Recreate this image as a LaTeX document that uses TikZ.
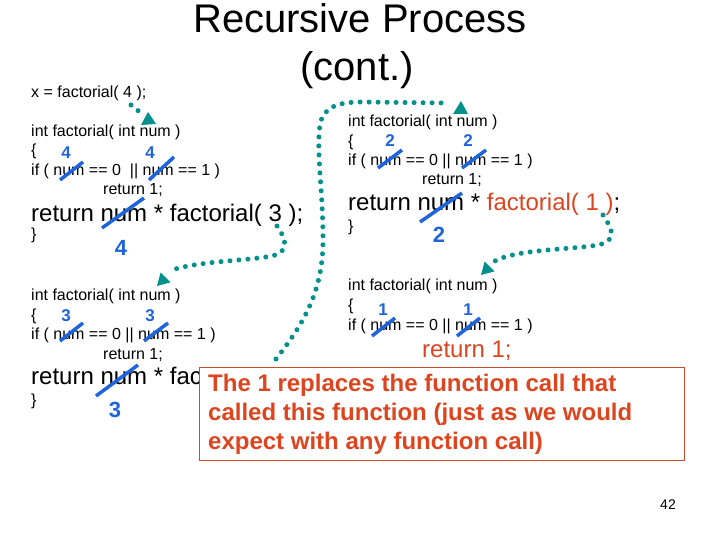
\documentclass[tikz,border=0pt]{standalone}
\usepackage{fontspec}
\setmainfont{Liberation Sans}
\definecolor{tealdot}{RGB}{0,145,140}
\definecolor{numblue}{RGB}{30,100,220}
\definecolor{redtxt}{RGB}{222,68,30}
\definecolor{boxline}{RGB}{205,75,45}
\begin{document}
\begin{tikzpicture}[x=1pt,y=-1pt,
  code/.style={anchor=base west,inner sep=0pt,font=\fontsize{16}{16}\selectfont},
  bigcode/.style={anchor=base west,inner sep=0pt,font=\fontsize{24}{24}\selectfont},
  numtop/.style={anchor=base,inner sep=0pt,text=numblue,font=\bfseries\fontsize{17}{17}\selectfont},
  numbot/.style={anchor=base,inner sep=0pt,text=numblue,font=\bfseries\fontsize{22}{22}\selectfont},
  strike/.style={draw=numblue,line width=3.5pt},
  dotline/.style={draw=tealdot,line width=5pt,line cap=round,dash pattern=on 0pt off 9pt},
  headtri/.style={fill=tealdot},
  boxtxt/.style={anchor=base west,inner sep=0pt,text=redtxt,font=\bfseries\fontsize{24}{24}\selectfont}]
\useasboundingbox (0,0) rectangle (720,540);

% title
\node (t1) [anchor=base,inner sep=0pt,font=\fontsize{40}{40}\selectfont] at (360,33) {Recursive Process};
\node (t2) [anchor=base,inner sep=0pt,font=\fontsize{40}{40}\selectfont] at (357,81) {(cont.)};

\node (call) [code] at (31,98) {x = factorial( 4 );};

% block 1
\node (b1h) [code] at (31,137) {int factorial( int num )};
\node (b1o) [code] at (31,156) {\{};
\node (b1if) [code] at (31,176) {if ( num == 0 \ || num == 1 )};
\node (b1r) [code] at (103,195) {return 1;};
\node (b1big) [bigcode] at (31,222) {return num * factorial( 3 );};
\node (b1c) [code] at (31,240) {\}};
\node (b1n1) [numtop] at (66,159) {4};
\node (b1n2) [numtop] at (150,159) {4};
\node (b1n3) [numbot] at (121,255) {4};
\draw[strike] (60,180) -- (83,162);
\draw[strike] (149,180) -- (174,157);
\draw[strike] (102,228) -- (144,198);

% block 2
\node (b2h) [code] at (348,127) {int factorial( int num )};
\node (b2o) [code] at (348,147) {\{};
\node (b2if) [code] at (348,166) {if ( num == 0 || num == 1 )};
\node (b2r) [code] at (422,185) {return 1;};
\node (b2big) [bigcode] at (348,211) {return num * \textcolor{redtxt}{factorial( 1 )};};
\node (b2c) [code] at (348,232) {\}};
\node (b2n1) [numtop] at (390,147) {2};
\node (b2n2) [numtop] at (468,147) {2};
\node (b2n3) [numbot] at (439,243) {2};
\draw[strike] (378,168) -- (402,150);
\draw[strike] (462,168) -- (486,150);
\draw[strike] (420,222) -- (462,193);

% block 3
\node (b3h) [code] at (31,300) {int factorial( int num )};
\node (b3o) [code] at (31,320) {\{};
\node (b3if) [code] at (31,339) {if ( num == 0 || num == 1 )};
\node (b3r) [code] at (103,359) {return 1;};
\begin{scope}
  \clip (0,355) rectangle (199,400);
  \node (b3big) [bigcode] at (31,384) {return num * fac};
\end{scope}
\node (b3c) [code] at (31,405) {\}};
\node (b3n1) [numtop] at (66,321) {3};
\node (b3n2) [numtop] at (150,321) {3};
\node (b3n3) [numbot] at (115,417) {3};
\draw[strike] (60,341) -- (83,323);
\draw[strike] (144,341) -- (168,323);
\draw[strike] (96,396) -- (138,365);

% block 4
\node (b4h) [code] at (348,290) {int factorial( int num )};
\node (b4o) [code] at (348,310) {\{};
\node (b4if) [code] at (348,330) {if ( num == 0 || num == 1 )};
\node (b4r) [bigcode,text=redtxt] at (422,357) {return 1;};
\node (b4n1) [numtop] at (383,315) {1};
\node (b4n2) [numtop] at (468,315) {1};
\draw[strike] (372,336) -- (395,318);
\draw[strike] (457,336) -- (480,318);

% dotted connectors
\coordinate (a1s) at (131,105);
\coordinate (a1e) at (141,113);
\draw[dotline] (a1s) -- (a1e);
\fill[headtri] (148,112) -- (141,125) -- (156,124) -- cycle;

\coordinate (a2s) at (277,226);
\coordinate (a2e) at (172,270);
\draw[dotline] (a2s) .. controls (284,236) and (292,251) .. (272,256)
  .. controls (245,261) and (200,261) .. (a2e);
\fill[headtri] (157,286) -- (160.6,272.6) -- (170.4,282.4) -- cycle;

\coordinate (a3s) at (603,215);
\coordinate (a3e) at (493,262);
\draw[dotline] (a3s) .. controls (610,226) and (620,240) .. (598,245)
  .. controls (568,250) and (515,249) .. (a3e);
\fill[headtri] (481,275) -- (484.6,261.6) -- (494.4,271.4) -- cycle;

\coordinate (a4s) at (276,359);
\coordinate (a4e) at (448,103);
\draw[dotline] (a4s) .. controls (305,322) and (323,290) .. (323,240)
  .. controls (323,190) and (316,150) .. (320,125)
  .. controls (323,106) and (340,102) .. (362,102) -- (a4e);
\fill[headtri] (461,101) -- (453,114) -- (468,114) -- cycle;

% callout box
\node (box) [draw=boxline,fill=white,line width=1pt,anchor=north west,inner sep=0pt,
  minimum width=485pt,minimum height=93pt] at (199,367) {};
\node (bx1) [boxtxt] at (208,391) {The 1 replaces the function call that};
\node (bx2) [boxtxt] at (208,420) {called this function (just as we would};
\node (bx3) [boxtxt] at (208,449) {expect with any function call)};

\node (pg) [anchor=base,inner sep=0pt,font=\fontsize{14}{14}\selectfont] at (668,509) {42};
\end{tikzpicture}
\end{document}
